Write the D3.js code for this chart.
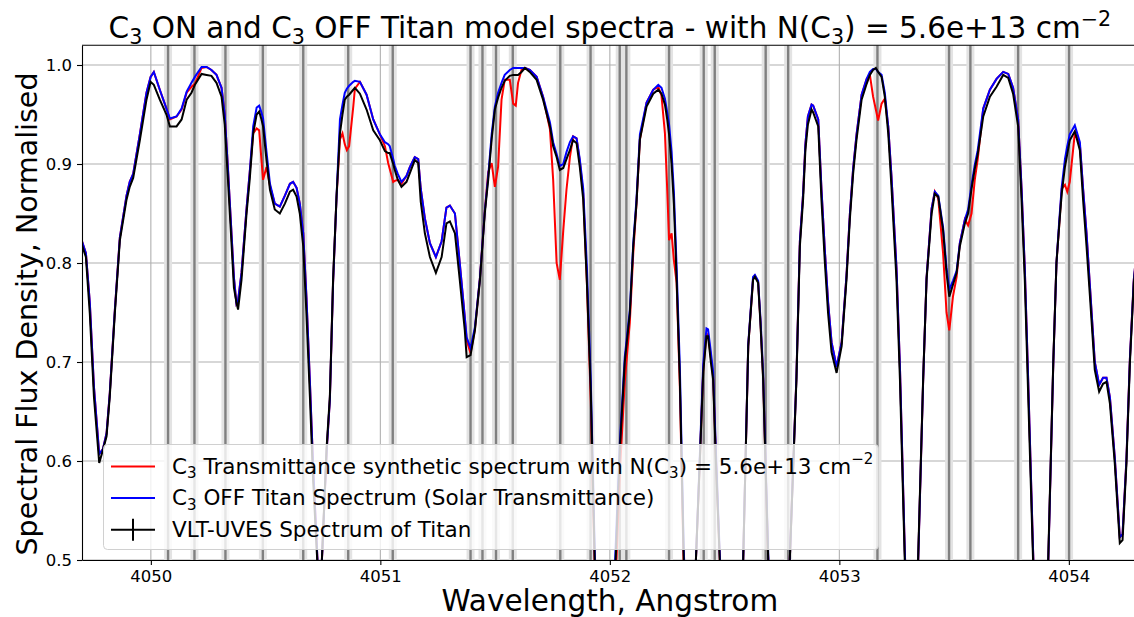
<!DOCTYPE html>
<html>
<head>
<meta charset="utf-8">
<script src="https://cdn.jsdelivr.net/npm/d3@7"></script>
<style>
  body { margin: 0; background: #fff; }
  text { font-family: "DejaVu Sans", sans-serif; }
</style>
</head>
<body>
<div id="chart"></div>
<script>
// wavelength grid (Angstrom), shared by the three spectra
var wavelength = [
  4049.700, 4049.717, 4049.734, 4049.752, 4049.775, 4049.791, 4049.807, 4049.821, 4049.843, 4049.865, 4049.894, 4049.908, 4049.923, 4049.952, 4049.981, 4049.999, 4050.013,
  4050.039, 4050.068, 4050.083, 4050.112, 4050.134, 4050.156, 4050.177, 4050.192, 4050.221, 4050.243, 4050.264, 4050.286, 4050.308, 4050.322, 4050.336, 4050.349, 4050.362, 4050.373, 4050.380,
  4050.395, 4050.417, 4050.431, 4050.446, 4050.461, 4050.472, 4050.482, 4050.489, 4050.504, 4050.519, 4050.540, 4050.562, 4050.584, 4050.606, 4050.620, 4050.635, 4050.649, 4050.664, 4050.678, 4050.693, 4050.707,
  4050.736, 4050.766, 4050.780, 4050.794, 4050.809, 4050.824, 4050.835, 4050.845, 4050.854, 4050.864, 4050.882, 4050.889, 4050.911, 4050.940, 4050.969, 4050.998, 4051.020, 4051.034, 4051.041, 4051.056, 4051.063, 4051.076, 4051.092,
  4051.114, 4051.129, 4051.150, 4051.165, 4051.176, 4051.194, 4051.216, 4051.242, 4051.267, 4051.288, 4051.303, 4051.325, 4051.346, 4051.368, 4051.376, 4051.393, 4051.412, 4051.434, 4051.455,
  4051.470, 4051.485, 4051.499, 4051.513, 4051.528, 4051.542, 4051.564, 4051.579, 4051.590, 4051.600, 4051.615, 4051.630, 4051.651, 4051.681, 4051.709, 4051.739, 4051.753, 4051.768, 4051.782, 4051.797, 4051.811, 4051.826, 4051.840, 4051.855, 4051.869, 4051.884,
  4051.900, 4051.917, 4051.939, 4051.969, 4052.000, 4052.022, 4052.044, 4052.065, 4052.087, 4052.102, 4052.116, 4052.131,
  4052.160, 4052.189, 4052.211, 4052.225, 4052.240, 4052.250, 4052.258, 4052.269, 4052.279, 4052.291, 4052.305, 4052.322, 4052.349,
  4052.375, 4052.392, 4052.407, 4052.421, 4052.428, 4052.440, 4052.450, 4052.462, 4052.479, 4052.523,
  4052.581, 4052.603, 4052.624, 4052.632, 4052.646, 4052.656, 4052.668, 4052.690, 4052.732, 4052.784,
  4052.813, 4052.828, 4052.842, 4052.852, 4052.863, 4052.879, 4052.886, 4052.908, 4052.922, 4052.937, 4052.951, 4052.966, 4052.988, 4053.010, 4053.031, 4053.046, 4053.060, 4053.075, 4053.097, 4053.119, 4053.133, 4053.147, 4053.159, 4053.169, 4053.184, 4053.198, 4053.213, 4053.227, 4053.249, 4053.264,
  4053.285, 4053.316, 4053.343, 4053.365, 4053.380, 4053.402, 4053.416, 4053.431, 4053.452, 4053.467, 4053.479, 4053.495, 4053.511, 4053.525, 4053.547, 4053.561, 4053.576, 4053.590, 4053.603, 4053.627, 4053.656, 4053.685, 4053.714, 4053.736, 4053.757, 4053.779, 4053.794, 4053.808, 4053.823, 4053.844,
  4053.874, 4053.910, 4053.932, 4053.946, 4053.958, 4053.969, 4053.983, 4053.993, 4054.004, 4054.026, 4054.048, 4054.062, 4054.077, 4054.092, 4054.113, 4054.132, 4054.149, 4054.164, 4054.179, 4054.200, 4054.222, 4054.234, 4054.251, 4054.266, 4054.283, 4054.300
]

// VLT-UVES observed spectrum (black)
var fluxObserved = [
  0.818, 0.806, 0.749, 0.665, 0.598, 0.611, 0.625, 0.665, 0.749, 0.823, 0.864, 0.877, 0.886, 0.924, 0.965, 0.983, 0.980,
  0.965, 0.950, 0.938, 0.938, 0.945, 0.965, 0.972, 0.980, 0.991, 0.990, 0.989, 0.982, 0.968, 0.940, 0.884, 0.830, 0.775, 0.760, 0.753,
  0.783, 0.850, 0.885, 0.931, 0.950, 0.953, 0.945, 0.938, 0.904, 0.874, 0.854, 0.850, 0.860, 0.872, 0.874, 0.867, 0.850, 0.817, 0.749, 0.665, 0.581,
  0.450, 0.614, 0.665, 0.783, 0.867, 0.931, 0.950, 0.965, 0.968, 0.970, 0.975, 0.977, 0.971, 0.955, 0.934, 0.924, 0.913, 0.911, 0.911, 0.900, 0.894, 0.884, 0.877,
  0.882, 0.891, 0.904, 0.901, 0.862, 0.830, 0.806, 0.790, 0.806, 0.840, 0.842, 0.830, 0.783, 0.732, 0.705, 0.707, 0.732, 0.783, 0.850,
  0.884, 0.925, 0.955, 0.967, 0.977, 0.984, 0.989, 0.990, 0.990, 0.990, 0.993, 0.997, 0.993, 0.985, 0.965, 0.938, 0.918, 0.907, 0.894, 0.896, 0.905, 0.914, 0.924, 0.921, 0.897, 0.864,
  0.780, 0.670, 0.450, 0.300, 0.380, 0.480, 0.614, 0.700, 0.749, 0.817, 0.860, 0.925,
  0.958, 0.971, 0.975, 0.971, 0.960, 0.945, 0.930, 0.900, 0.860, 0.783, 0.682, 0.500, 0.350,
  0.500, 0.600, 0.690, 0.726, 0.726, 0.700, 0.682, 0.600, 0.500, 0.300,
  0.500, 0.716, 0.783, 0.786, 0.780, 0.740, 0.682, 0.500, 0.300, 0.500,
  0.682, 0.817, 0.864, 0.914, 0.940, 0.955, 0.952, 0.938, 0.864, 0.800, 0.749, 0.710, 0.689, 0.716, 0.783, 0.845, 0.890, 0.925, 0.965, 0.981, 0.990, 0.995, 0.997, 0.993, 0.988, 0.968, 0.931, 0.877, 0.783, 0.682,
  0.500, 0.300, 0.500, 0.682, 0.783, 0.850, 0.870, 0.867, 0.833, 0.790, 0.766, 0.778, 0.790, 0.817, 0.840, 0.850, 0.875, 0.895, 0.910, 0.948, 0.968, 0.978, 0.990, 0.987, 0.971, 0.938, 0.864, 0.783, 0.665, 0.500,
  0.300, 0.500, 0.699, 0.800, 0.838, 0.870, 0.897, 0.910, 0.924, 0.933, 0.914, 0.864, 0.817, 0.766, 0.692, 0.670, 0.678, 0.680, 0.658, 0.598, 0.517, 0.520, 0.598, 0.699, 0.780, 0.820
]

// C3 OFF model: Titan spectrum with solar transmittance only (blue)
var fluxOff = [
  0.822, 0.810, 0.760, 0.675, 0.607, 0.612, 0.628, 0.668, 0.752, 0.826, 0.868, 0.882, 0.890, 0.930, 0.972, 0.988, 0.993,
  0.975, 0.956, 0.946, 0.948, 0.956, 0.973, 0.982, 0.988, 0.998, 0.998, 0.995, 0.990, 0.977, 0.950, 0.895, 0.840, 0.785, 0.759, 0.762,
  0.790, 0.855, 0.892, 0.938, 0.957, 0.959, 0.952, 0.946, 0.912, 0.880, 0.860, 0.857, 0.868, 0.880, 0.882, 0.876, 0.860, 0.830, 0.765, 0.680, 0.595,
  0.450, 0.610, 0.662, 0.780, 0.866, 0.945, 0.960, 0.972, 0.976, 0.979, 0.983, 0.984, 0.983, 0.970, 0.945, 0.930, 0.922, 0.920, 0.918, 0.905, 0.898, 0.890, 0.882,
  0.888, 0.897, 0.907, 0.905, 0.875, 0.845, 0.820, 0.806, 0.822, 0.856, 0.858, 0.850, 0.800, 0.745, 0.725, 0.714, 0.735, 0.785, 0.852,
  0.888, 0.930, 0.958, 0.972, 0.982, 0.990, 0.995, 0.997, 0.997, 0.997, 0.997, 0.997, 0.995, 0.988, 0.968, 0.942, 0.922, 0.910, 0.898, 0.900, 0.912, 0.922, 0.928, 0.926, 0.905, 0.875,
  0.795, 0.680, 0.460, 0.300, 0.390, 0.495, 0.620, 0.705, 0.752, 0.820, 0.864, 0.930,
  0.962, 0.975, 0.980, 0.977, 0.966, 0.952, 0.940, 0.912, 0.872, 0.795, 0.695, 0.510, 0.350,
  0.500, 0.605, 0.698, 0.734, 0.733, 0.710, 0.690, 0.610, 0.505, 0.300,
  0.500, 0.718, 0.786, 0.788, 0.782, 0.745, 0.688, 0.505, 0.300, 0.500,
  0.685, 0.822, 0.870, 0.920, 0.948, 0.960, 0.959, 0.945, 0.875, 0.812, 0.760, 0.720, 0.695, 0.720, 0.787, 0.850, 0.895, 0.930, 0.970, 0.986, 0.993, 0.996, 0.996, 0.993, 0.990, 0.972, 0.938, 0.888, 0.795, 0.695,
  0.510, 0.300, 0.495, 0.680, 0.785, 0.855, 0.872, 0.868, 0.836, 0.795, 0.773, 0.782, 0.792, 0.820, 0.844, 0.854, 0.879, 0.899, 0.914, 0.956, 0.975, 0.986, 0.993, 0.991, 0.977, 0.945, 0.875, 0.795, 0.680, 0.510,
  0.300, 0.495, 0.697, 0.800, 0.842, 0.877, 0.905, 0.918, 0.930, 0.939, 0.922, 0.875, 0.830, 0.776, 0.700, 0.677, 0.684, 0.684, 0.664, 0.604, 0.523, 0.526, 0.602, 0.703, 0.783, 0.823
]

// C3 ON model: synthetic transmittance with N(C3) = 5.6e13 cm-2 (red)
var fluxOn = [
  0.822, 0.810, 0.760, 0.675, 0.607, 0.612, 0.628, 0.668, 0.752, 0.826, 0.868, 0.882, 0.890, 0.930, 0.972, 0.988, 0.993,
  0.975, 0.956, 0.945, 0.948, 0.955, 0.972, 0.978, 0.981, 0.997, 0.998, 0.995, 0.990, 0.977, 0.950, 0.895, 0.840, 0.785, 0.759, 0.762,
  0.790, 0.855, 0.892, 0.931, 0.936, 0.934, 0.904, 0.884, 0.897, 0.878, 0.860, 0.857, 0.868, 0.880, 0.882, 0.876, 0.860, 0.830, 0.765, 0.680, 0.595,
  0.450, 0.610, 0.662, 0.780, 0.866, 0.925, 0.931, 0.920, 0.914, 0.918, 0.958, 0.976, 0.983, 0.970, 0.945, 0.930, 0.918, 0.901, 0.895, 0.882, 0.883, 0.884, 0.880,
  0.888, 0.897, 0.907, 0.905, 0.875, 0.845, 0.820, 0.806, 0.822, 0.856, 0.858, 0.850, 0.800, 0.745, 0.722, 0.709, 0.733, 0.785, 0.852,
  0.892, 0.901, 0.877, 0.897, 0.965, 0.985, 0.985, 0.961, 0.959, 0.982, 0.995, 0.997, 0.995, 0.988, 0.968, 0.935, 0.884, 0.800, 0.783, 0.833, 0.874, 0.907, 0.928, 0.926, 0.903, 0.870,
  0.780, 0.660, 0.440, 0.300, 0.360, 0.460, 0.590, 0.680, 0.740, 0.810, 0.860, 0.925,
  0.962, 0.975, 0.978, 0.969, 0.931, 0.874, 0.823, 0.830, 0.803, 0.780, 0.675, 0.490, 0.350,
  0.500, 0.600, 0.693, 0.728, 0.728, 0.705, 0.685, 0.605, 0.500, 0.300,
  0.500, 0.716, 0.784, 0.787, 0.781, 0.742, 0.684, 0.500, 0.300, 0.500,
  0.685, 0.822, 0.870, 0.920, 0.948, 0.960, 0.959, 0.945, 0.875, 0.812, 0.760, 0.720, 0.695, 0.720, 0.787, 0.850, 0.895, 0.930, 0.970, 0.986, 0.990, 0.968, 0.955, 0.944, 0.961, 0.966, 0.938, 0.888, 0.795, 0.695,
  0.510, 0.300, 0.495, 0.680, 0.785, 0.855, 0.872, 0.865, 0.810, 0.750, 0.732, 0.766, 0.786, 0.820, 0.844, 0.838, 0.850, 0.884, 0.905, 0.956, 0.975, 0.986, 0.993, 0.991, 0.977, 0.945, 0.875, 0.795, 0.680, 0.510,
  0.300, 0.495, 0.697, 0.800, 0.838, 0.875, 0.879, 0.872, 0.882, 0.931, 0.920, 0.875, 0.830, 0.776, 0.700, 0.677, 0.684, 0.684, 0.664, 0.604, 0.523, 0.526, 0.602, 0.703, 0.783, 0.823
]

// positions of the C3 lines marked with vertical bars
var c3Lines = [4050.075, 4050.190, 4050.325, 4050.488, 4050.664, 4050.860, 4051.054, 4051.393, 4051.445, 4051.504,
  4051.577, 4051.784, 4051.916, 4052.043, 4052.072, 4052.258, 4052.409, 4052.457, 4052.679, 4052.777,
  4053.166, 4053.478, 4053.571, 4053.779, 4054.001]

var xTicks = [4050, 4051, 4052, 4053, 4054]
var yTicks = [0.5, 0.6, 0.7, 0.8, 0.9, 1.0]

var seriesNames = ['C3 ON', 'C3 OFF', 'VLT-UVES']
var seriesColors = ['#ff0000', '#0000ff', '#000000']

var width = 1134
var height = 617
var plot = {left: 82, right: 1137.7, top: 45.2, bottom: 560}

var xScale = d3.scaleLinear().domain([4049.7, 4054.3]).range([plot.left, plot.right])
var yScale = d3.scaleLinear().domain([0.5, 1.02]).range([plot.bottom, plot.top])

var svg = d3.select('#chart')
  .append('svg')
  .attr('width', width)
  .attr('height', height)

svg.append('rect').attr('width', width).attr('height', height).attr('fill', '#fff')

svg.append('clipPath')
  .attr('id', 'plot-clip')
  .append('rect')
  .attr('x', plot.left)
  .attr('y', plot.top)
  .attr('width', plot.right - plot.left)
  .attr('height', plot.bottom - plot.top)

// grid
var grid = svg.append('g').attr('class', 'grid')
grid.selectAll('.gx')
  .data(xTicks)
  .enter().append('line')
  .attr('x1', d => xScale(d)).attr('x2', d => xScale(d))
  .attr('y1', plot.top).attr('y2', plot.bottom)
  .attr('stroke', '#b0b0b0').attr('stroke-width', 1.1)
grid.selectAll('.gy')
  .data(yTicks)
  .enter().append('line')
  .attr('x1', plot.left).attr('x2', plot.right)
  .attr('y1', d => yScale(d)).attr('y2', d => yScale(d))
  .attr('stroke', '#b0b0b0').attr('stroke-width', 1.1)

// C3 line markers
var marks = svg.append('g').attr('clip-path', 'url(#plot-clip)')
marks.selectAll('.band')
  .data(c3Lines)
  .enter().append('line')
  .attr('class', 'band')
  .attr('x1', d => xScale(d)).attr('x2', d => xScale(d))
  .attr('y1', plot.top).attr('y2', plot.bottom)
  .attr('stroke', '#e3e3e3').attr('stroke-width', 8)
marks.selectAll('.mark')
  .data(c3Lines)
  .enter().append('line')
  .attr('class', 'mark')
  .attr('x1', d => xScale(d)).attr('x2', d => xScale(d))
  .attr('y1', plot.top).attr('y2', plot.bottom)
  .attr('stroke', '#808080').attr('stroke-width', 2.4)

// spectra
var fluxes = [fluxOn, fluxOff, fluxObserved]
var line = d3.line()
  .defined(d => d[1] != null)
  .x(d => xScale(d[0]))
  .y(d => yScale(d[1]))

svg.append('g')
  .attr('clip-path', 'url(#plot-clip)')
  .selectAll('.spectrum')
  .data(fluxes)
  .enter().append('path')
  .attr('class', 'spectrum')
  .attr('d', f => line(wavelength.map((w, i) => [w, f[i]])))
  .attr('fill', 'none')
  .attr('stroke', (d, i) => seriesColors[i])
  .attr('stroke-width', 2)
  .attr('stroke-linejoin', 'miter')

// axes
var xAxis = d3.axisBottom(xScale).tickValues(xTicks).tickSize(5).tickSizeOuter(0).tickPadding(5).tickFormat(d3.format('d'))
var gx = svg.append('g')
  .attr('class', 'axis axis-x')
  .attr('transform', 'translate(0,' + plot.bottom + ')')
  .call(xAxis)

var yAxis = d3.axisLeft(yScale).tickValues(yTicks).tickSize(5).tickSizeOuter(0).tickPadding(5).tickFormat(d3.format('.1f'))
var gy = svg.append('g')
  .attr('class', 'axis axis-y')
  .attr('transform', 'translate(' + plot.left + ',0)')
  .call(yAxis)

svg.selectAll('.axis text')
  .attr('font-family', '"DejaVu Sans", sans-serif')
  .attr('font-size', 16.5)
  .attr('fill', '#000')
svg.selectAll('.axis line').attr('stroke', '#000').attr('stroke-width', 1.1)
svg.selectAll('.axis path').attr('stroke', '#000').attr('stroke-width', 1.1)

// top spine
svg.append('line')
  .attr('x1', plot.left).attr('x2', plot.right)
  .attr('y1', plot.top).attr('y2', plot.top)
  .attr('stroke', '#000').attr('stroke-width', 1.1)

// text with sub/superscripts: parts are [string, 'sub'|'sup'|undefined]
function richText(sel, parts, size) {
  var shift = 0
  parts.forEach(function(p) {
    var target = p[1] === 'sub' ? 0.22 * size : p[1] === 'sup' ? -0.42 * size : 0
    sel.append('tspan')
      .attr('dy', target - shift)
      .attr('font-size', p[1] ? size * 0.7 : size)
      .text(p[0])
    shift = target
  })
}

var titleParts = [['C'], ['3', 'sub'], [' ON and C'], ['3', 'sub'], [' OFF Titan model spectra - with N(C'], ['3', 'sub'], [') = 5.6e+13 cm'], ['\u22122', 'sup']]
var title = svg.append('text')
  .attr('x', (plot.left + plot.right) / 2)
  .attr('y', 38)
  .attr('text-anchor', 'middle')
  .attr('font-size', 29.5)
richText(title, titleParts, 29.5)

svg.append('text')
  .attr('x', (plot.left + plot.right) / 2)
  .attr('y', 611)
  .attr('text-anchor', 'middle')
  .attr('font-size', 29.5)
  .text('Wavelength, Angstrom')

svg.append('text')
  .attr('transform', 'translate(37,314) rotate(-90)')
  .attr('text-anchor', 'middle')
  .attr('font-size', 28.5)
  .text('Spectral Flux Density, Normalised')

// legend
var legendLabels = [
  [['C'], ['3', 'sub'], [' Transmittance synthetic spectrum with N(C'], ['3', 'sub'], [') = 5.6e+13 cm'], ['\u22122', 'sup']],
  [['C'], ['3', 'sub'], [' OFF Titan Spectrum (Solar Transmittance)']],
  [['VLT-UVES Spectrum of Titan']]
]
var legend = svg.append('g').attr('class', 'legend')
legend.append('rect')
  .attr('x', 103.5).attr('y', 444.5)
  .attr('width', 775).attr('height', 105)
  .attr('rx', 4)
  .attr('fill', '#fff').attr('fill-opacity', 0.8)
  .attr('stroke', '#d0d0d0').attr('stroke-width', 1)

var rows = legend.selectAll('.row')
  .data(legendLabels)
  .enter().append('g')
  .attr('class', 'row')
  .attr('transform', (d, i) => 'translate(0,' + (473.5 + i * 31.6) + ')')

rows.append('line')
  .attr('x1', 111).attr('x2', 155)
  .attr('y1', -7).attr('y2', -7)
  .attr('stroke', (d, i) => seriesColors[i])
  .attr('stroke-width', 2)

rows.filter((d, i) => i === 2)
  .append('line')
  .attr('x1', 133).attr('x2', 133)
  .attr('y1', -18).attr('y2', 4)
  .attr('stroke', '#000').attr('stroke-width', 2)

rows.append('text')
  .attr('x', 172)
  .attr('y', 0)
  .attr('font-size', 21.5)
  .each(function(d) { richText(d3.select(this), d, 21.5) })
</script>
</body>
</html>
